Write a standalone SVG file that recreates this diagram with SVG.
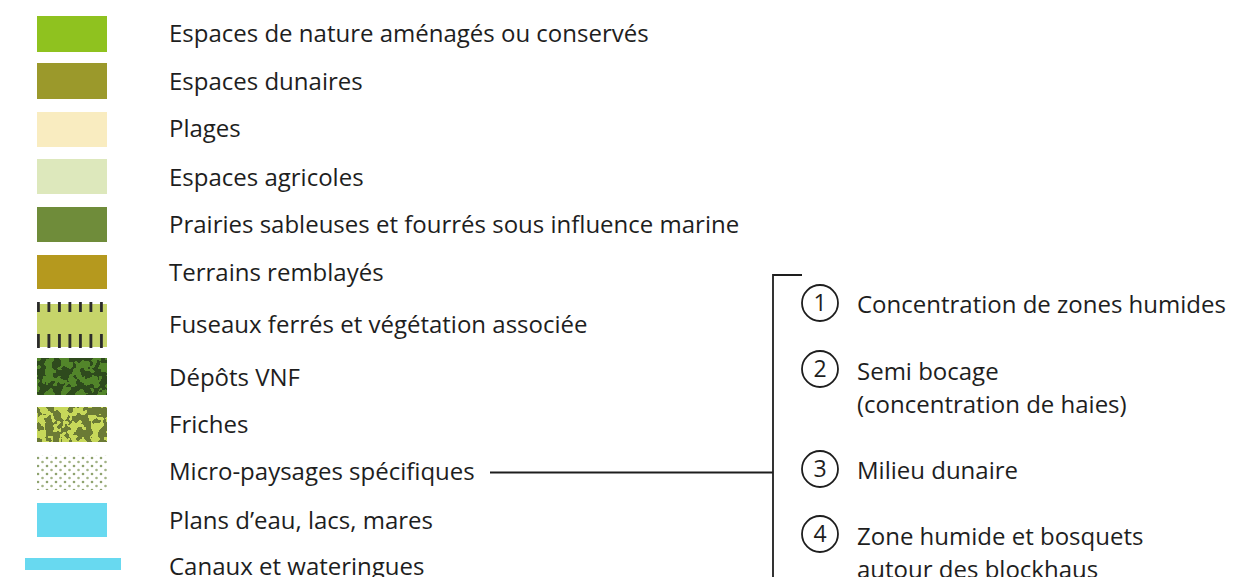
<svg xmlns="http://www.w3.org/2000/svg" width="1239" height="577" viewBox="0 0 1239 577">
<style>
.t{font-family:"Open Sans","Liberation Sans",sans-serif;font-size:24px;fill:#1e1e1e}
.c{fill:none;stroke:#1e1e1e;stroke-width:1.8}
.n{font-family:"Open Sans","Liberation Sans",sans-serif;font-size:23px;fill:#1e1e1e;text-anchor:middle}
.ln{stroke:#1e1e1e;stroke-width:1.8;fill:none}
</style>
<defs>
<filter id="camoA" x="0" y="0" width="100%" height="100%" color-interpolation-filters="sRGB">
<feTurbulence type="fractalNoise" baseFrequency="0.13" numOctaves="2" seed="4" result="n"/>
<feColorMatrix in="n" type="matrix" values="0 0 0 0 0  0 0 0 0 0  0 0 0 0 0  1 0 0 0 0" result="a"/>
<feComponentTransfer in="a" result="m"><feFuncA type="discrete" tableValues="0 1"/></feComponentTransfer>
<feFlood flood-color="#2e4a1d" result="bg"/>
<feFlood flood-color="#52852a" result="fc"/>
<feComposite in="fc" in2="m" operator="in" result="fg"/>
<feMerge><feMergeNode in="bg"/><feMergeNode in="fg"/></feMerge>
</filter>
<filter id="camoB" x="0" y="0" width="100%" height="100%" color-interpolation-filters="sRGB">
<feTurbulence type="fractalNoise" baseFrequency="0.13" numOctaves="2" seed="9" result="n"/>
<feColorMatrix in="n" type="matrix" values="0 0 0 0 0  0 0 0 0 0  0 0 0 0 0  1 0 0 0 0" result="a"/>
<feComponentTransfer in="a" result="m"><feFuncA type="discrete" tableValues="0 1"/></feComponentTransfer>
<feFlood flood-color="#c7d85a" result="bg"/>
<feFlood flood-color="#6b7a35" result="fc"/>
<feComposite in="fc" in2="m" operator="in" result="fg"/>
<feMerge><feMergeNode in="bg"/><feMergeNode in="fg"/></feMerge>
</filter>
<pattern id="dots" width="9" height="8" patternUnits="userSpaceOnUse">
<rect width="9" height="8" fill="#fff"/>
<circle cx="2" cy="2" r="1.3" fill="#8fa36f"/>
<circle cx="6.5" cy="6" r="1.3" fill="#a3b486"/>
</pattern>
<pattern id="ticks" x="36" width="10.5" height="10" patternUnits="userSpaceOnUse">
<rect x="1" y="0" width="2.8" height="10" fill="#2a2a2a"/>
</pattern>
</defs>

<g id="legend-nature"><rect x="37" y="16" width="70" height="36" fill="#8fc21f"/><text class="t" x="169" y="42">Espaces de nature aménagés ou conservés</text></g>
<g id="legend-dunaires"><rect x="37" y="63" width="70" height="36" fill="#9b992b"/><text class="t" x="169" y="90">Espaces dunaires</text></g>
<g id="legend-plages"><rect x="37" y="112" width="70" height="35" fill="#f9ecc0"/><text class="t" x="169" y="137">Plages</text></g>
<g id="legend-agricoles"><rect x="37" y="159" width="70" height="35" fill="#dde8bc"/><text class="t" x="169" y="186">Espaces agricoles</text></g>
<g id="legend-prairies"><rect x="37" y="207" width="70" height="35" fill="#6f8c3a"/><text class="t" x="169" y="233">Prairies sableuses et fourrés sous influence marine</text></g>
<g id="legend-remblayes"><rect x="37" y="255" width="70" height="34" fill="#b5991e"/><text class="t" x="169" y="281">Terrains remblayés</text></g>
<g id="legend-fuseaux"><rect x="37" y="304" width="70" height="43" fill="#c6d46a"/><rect x="37" y="302" width="70" height="10" fill="url(#ticks)"/><rect x="37" y="334" width="70" height="14" fill="url(#ticks)"/><text class="t" x="169" y="333">Fuseaux ferrés et végétation associée</text></g>
<g id="legend-vnf"><rect x="37" y="358" width="70" height="37" fill="#2e4a1d" filter="url(#camoA)"/><text class="t" x="169" y="386">Dépôts VNF</text></g>
<g id="legend-friches"><rect x="37" y="407" width="70" height="35" fill="#c7d85a" filter="url(#camoB)"/><text class="t" x="169" y="433">Friches</text></g>
<g id="legend-micro"><rect x="37" y="455" width="70" height="35" fill="url(#dots)"/><text class="t" x="169" y="480">Micro-paysages spécifiques</text></g>
<g id="legend-eau"><rect x="37" y="503" width="70" height="34" fill="#68d9f0"/><text class="t" x="169" y="529">Plans d’eau, lacs, mares</text></g>
<g id="legend-canaux"><rect x="25" y="558" width="96" height="12" fill="#68d9f0"/><text class="t" x="169" y="575">Canaux et wateringues</text></g>

<g id="connectors">
<path class="ln" d="M490 472.5 H773 M802 275 H773 V577"/>
</g>

<g id="micro-1"><circle class="c" cx="820" cy="303" r="18"/><text class="n" x="820" y="311">1</text><text class="t" x="857" y="313">Concentration de zones humides</text></g>
<g id="micro-2"><circle class="c" cx="820" cy="369" r="18"/><text class="n" x="820" y="377">2</text><text class="t" x="857" y="380">Semi bocage</text><text class="t" x="857" y="413">(concentration de haies)</text></g>
<g id="micro-3"><circle class="c" cx="820" cy="469" r="18"/><text class="n" x="820" y="477">3</text><text class="t" x="857" y="479">Milieu dunaire</text></g>
<g id="micro-4"><circle class="c" cx="820" cy="534" r="18"/><text class="n" x="820" y="542">4</text><text class="t" x="857" y="545">Zone humide et bosquets</text><text class="t" x="857" y="578">autour des blockhaus</text></g>
</svg>
